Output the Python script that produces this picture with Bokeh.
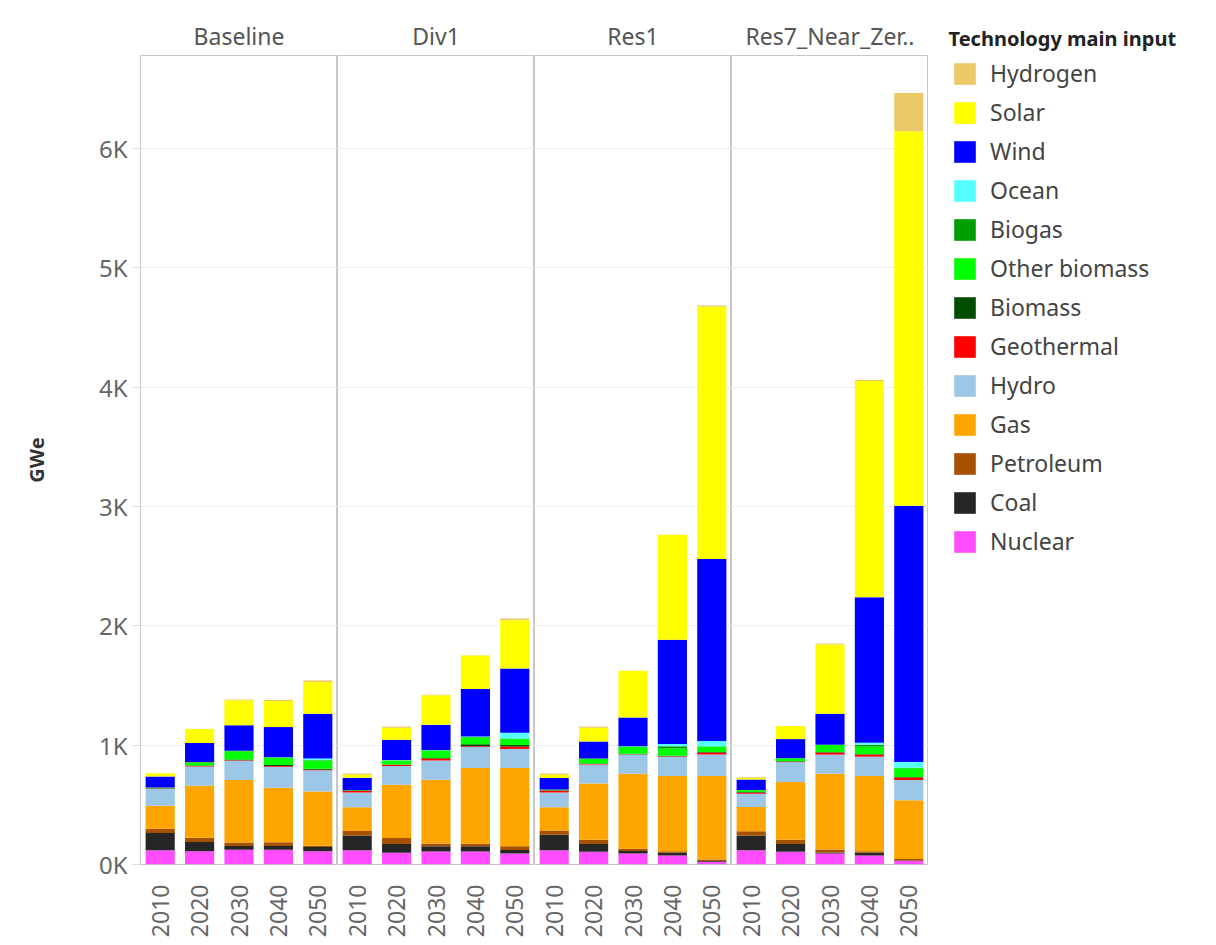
import math
from bokeh.plotting import figure
from bokeh.models import Range1d, FactorRange, Legend, LegendItem, FixedTicker, ColumnDataSource
from bokeh.layouts import row
from bokeh.embed import file_html
from bokeh.resources import INLINE

scenarios = ["Baseline", "Div1", "Res1", "Res7_Near_Zer.."]
years = ["2010", "2020", "2030", "2040", "2050"]
techs = ["Nuclear", "Coal", "Petroleum", "Gas", "Hydro", "Geothermal", "Biomass",
         "Other biomass", "Biogas", "Ocean", "Wind", "Solar", "Hydrogen"]
colors = ["#FF4DFF", "#262626", "#A65100", "#FFA500", "#9DC7E6", "#FF0000", "#004D00",
          "#00FF00", "#009E00", "#55FFFF", "#0000FF", "#FFFF00", "#ECC966"]

# values in GWe, one list of 5 years per scenario (Baseline, Div1, Res1, Res7)
nuclear = [[119, 112, 123, 123, 110], [119, 98, 108, 108, 92], [119, 106, 92, 76, 22], [119, 106, 92, 76, 29]]
coal = [[144, 77, 31, 33, 36], [124, 74, 45, 45, 30], [130, 66, 22, 22, 8], [124, 66, 8, 22, 4]]
petroleum = [[36, 36, 30, 31, 11], [37, 50, 22, 20, 31], [36, 36, 17, 14, 12], [36, 36, 25, 14, 13]]
gas = [[194, 436, 525, 456, 455], [199, 446, 536, 635, 655], [194, 470, 630, 629, 699], [202, 484, 636, 629, 492]]
hydro = [[139, 161, 160, 177, 177], [125, 157, 160, 177, 161], [125, 161, 160, 163, 180], [111, 166, 160, 163, 171]]
geothermal = [[4, 4, 5, 5, 6], [13, 10, 17, 6, 19], [15, 4, 4, 4, 17], [12, 4, 17, 17, 20]]
biomass = [[3, 4, 6, 8, 8], [3, 4, 5, 17, 14], [3, 4, 4, 4, 4], [3, 4, 4, 4, 4]]
other_biomass = [[5, 25, 70, 60, 68], [3, 32, 61, 58, 50], [4, 40, 57, 60, 46], [15, 25, 62, 63, 73]]
biogas = [[2, 3, 3, 5, 4], [2, 3, 3, 3, 3], [2, 2, 2, 20, 4], [2, 0, 0, 16, 4]]
ocean = [[0, 1, 1, 2, 14], [0, 1, 2, 3, 50], [0, 0, 2, 17, 43], [0, 0, 0, 16, 50]]
wind = [[91, 160, 213, 252, 375], [103, 170, 213, 399, 537], [97, 142, 241, 875, 1526], [88, 160, 260, 1219, 2147]]
solar = [[28, 116, 210, 218, 265], [24, 101, 247, 280, 406], [28, 115, 393, 879, 2114], [16, 110, 580, 1813, 3138]]
hydrogen = [[0, 0, 5, 10, 14], [10, 10, 3, 3, 14], [10, 10, 0, 0, 10], [5, 0, 8, 10, 320]]

series = [nuclear, coal, petroleum, gas, hydro, geothermal, biomass, other_biomass,
          biogas, ocean, wind, solar, hydrogen]

y_ticks = [0, 1000, 2000, 3000, 4000, 5000, 6000]
y_tick_labels = ["0K", "1K", "2K", "3K", "4K", "5K", "6K"]

FONT = "Noto Sans"
H = 940
y_range = Range1d(0, 6780)
figs = []
sources = []
for i, scen in enumerate(scenarios):
    first = i == 0
    w = 197 + (140 if first else 0)
    p = figure(x_range=FactorRange(*years, range_padding=0), y_range=y_range,
               width=w, height=H, output_backend="svg", toolbar_location=None,
               y_axis_location="left" if first else None,
               min_border_left=140 if first else 0, min_border_right=0,
               min_border_top=55, min_border_bottom=69, title=scen)
    p.title.align = "center"
    p.title.text_font = FONT
    p.title.text_font_size = "23px"
    p.title.text_font_style = "normal"
    p.title.text_color = "#555555"
    p.title.standoff = 8
    p.outline_line_color = "#c8c8c8"
    p.outline_line_width = 1
    p.xgrid.grid_line_color = None
    p.ygrid.grid_line_color = "#eeeeee"
    p.ygrid.ticker = FixedTicker(ticks=y_ticks)

    src = ColumnDataSource(dict(year=years, **{t: series[k][i] for k, t in enumerate(techs)}))
    sources.append(src)
    p.vbar_stack(techs, x="year", width=0.74, color=colors, line_color=None, source=src)

    xa = p.xaxis[0]
    xa.major_label_orientation = math.pi / 2
    xa.major_label_text_font = FONT
    xa.major_label_text_font_size = "23px"
    xa.major_label_text_color = "#666666"
    xa.major_tick_line_color = None
    xa.axis_line_color = None
    xa.major_label_standoff = 14

    if first:
        ya = p.yaxis[0]
        ya.ticker = FixedTicker(ticks=y_ticks)
        ya.major_label_overrides = {t: l for t, l in zip(y_ticks, y_tick_labels)}
        ya.major_label_text_font = FONT
        ya.major_label_text_font_size = "24px"
        ya.major_label_text_color = "#666666"
        ya.axis_line_color = None
        ya.major_tick_line_color = "#dddddd"
        ya.major_tick_in = 0
        ya.major_tick_out = 8
        ya.minor_tick_line_color = None
        ya.major_label_standoff = 5
        ya.axis_label = "GWe"
        ya.axis_label_text_font = FONT
        ya.axis_label_text_font_size = "20px"
        ya.axis_label_text_font_style = "bold"
        ya.axis_label_text_color = "#333333"
        ya.axis_label_standoff = 46
    figs.append(p)

# legend panel (its renderers are hidden; only the legend swatches show)
lg = figure(x_range=FactorRange(*years), y_range=Range1d(0, 6780),
            width=280, height=H, output_backend="svg", toolbar_location=None,
            x_axis_location=None, y_axis_location=None, title="Technology main input",
            min_border_left=0, min_border_right=0, min_border_top=55, min_border_bottom=69)
lg.title.align = "left"
lg.title.offset = 20
lg.title.standoff = 8
lg.title.text_font = FONT
lg.title.text_font_size = "20px"
lg.title.text_font_style = "bold"
lg.title.text_color = "#222222"
lg.outline_line_color = None
lg.grid.grid_line_color = None
lrs = lg.vbar_stack(techs, x="year", width=0.74, color=colors, line_color=None,
                    source=sources[-1], visible=False)
items = [LegendItem(label=t, renderers=[r]) for t, r in zip(techs, lrs)]
items.reverse()
legend = Legend(items=items, location=(23, 307),
                label_text_font=FONT, label_text_font_size="23px",
                label_text_color="#444444", label_standoff=12,
                glyph_width=27, glyph_height=27, spacing=7, label_height=27,
                border_line_color=None, background_fill_alpha=0, padding=8, margin=0,
                inactive_fill_alpha=0)
lg.add_layout(legend, "center")
figs.append(lg)

layout = row(*figs, spacing=0)
open("out.html", "w").write(file_html(layout, INLINE))
